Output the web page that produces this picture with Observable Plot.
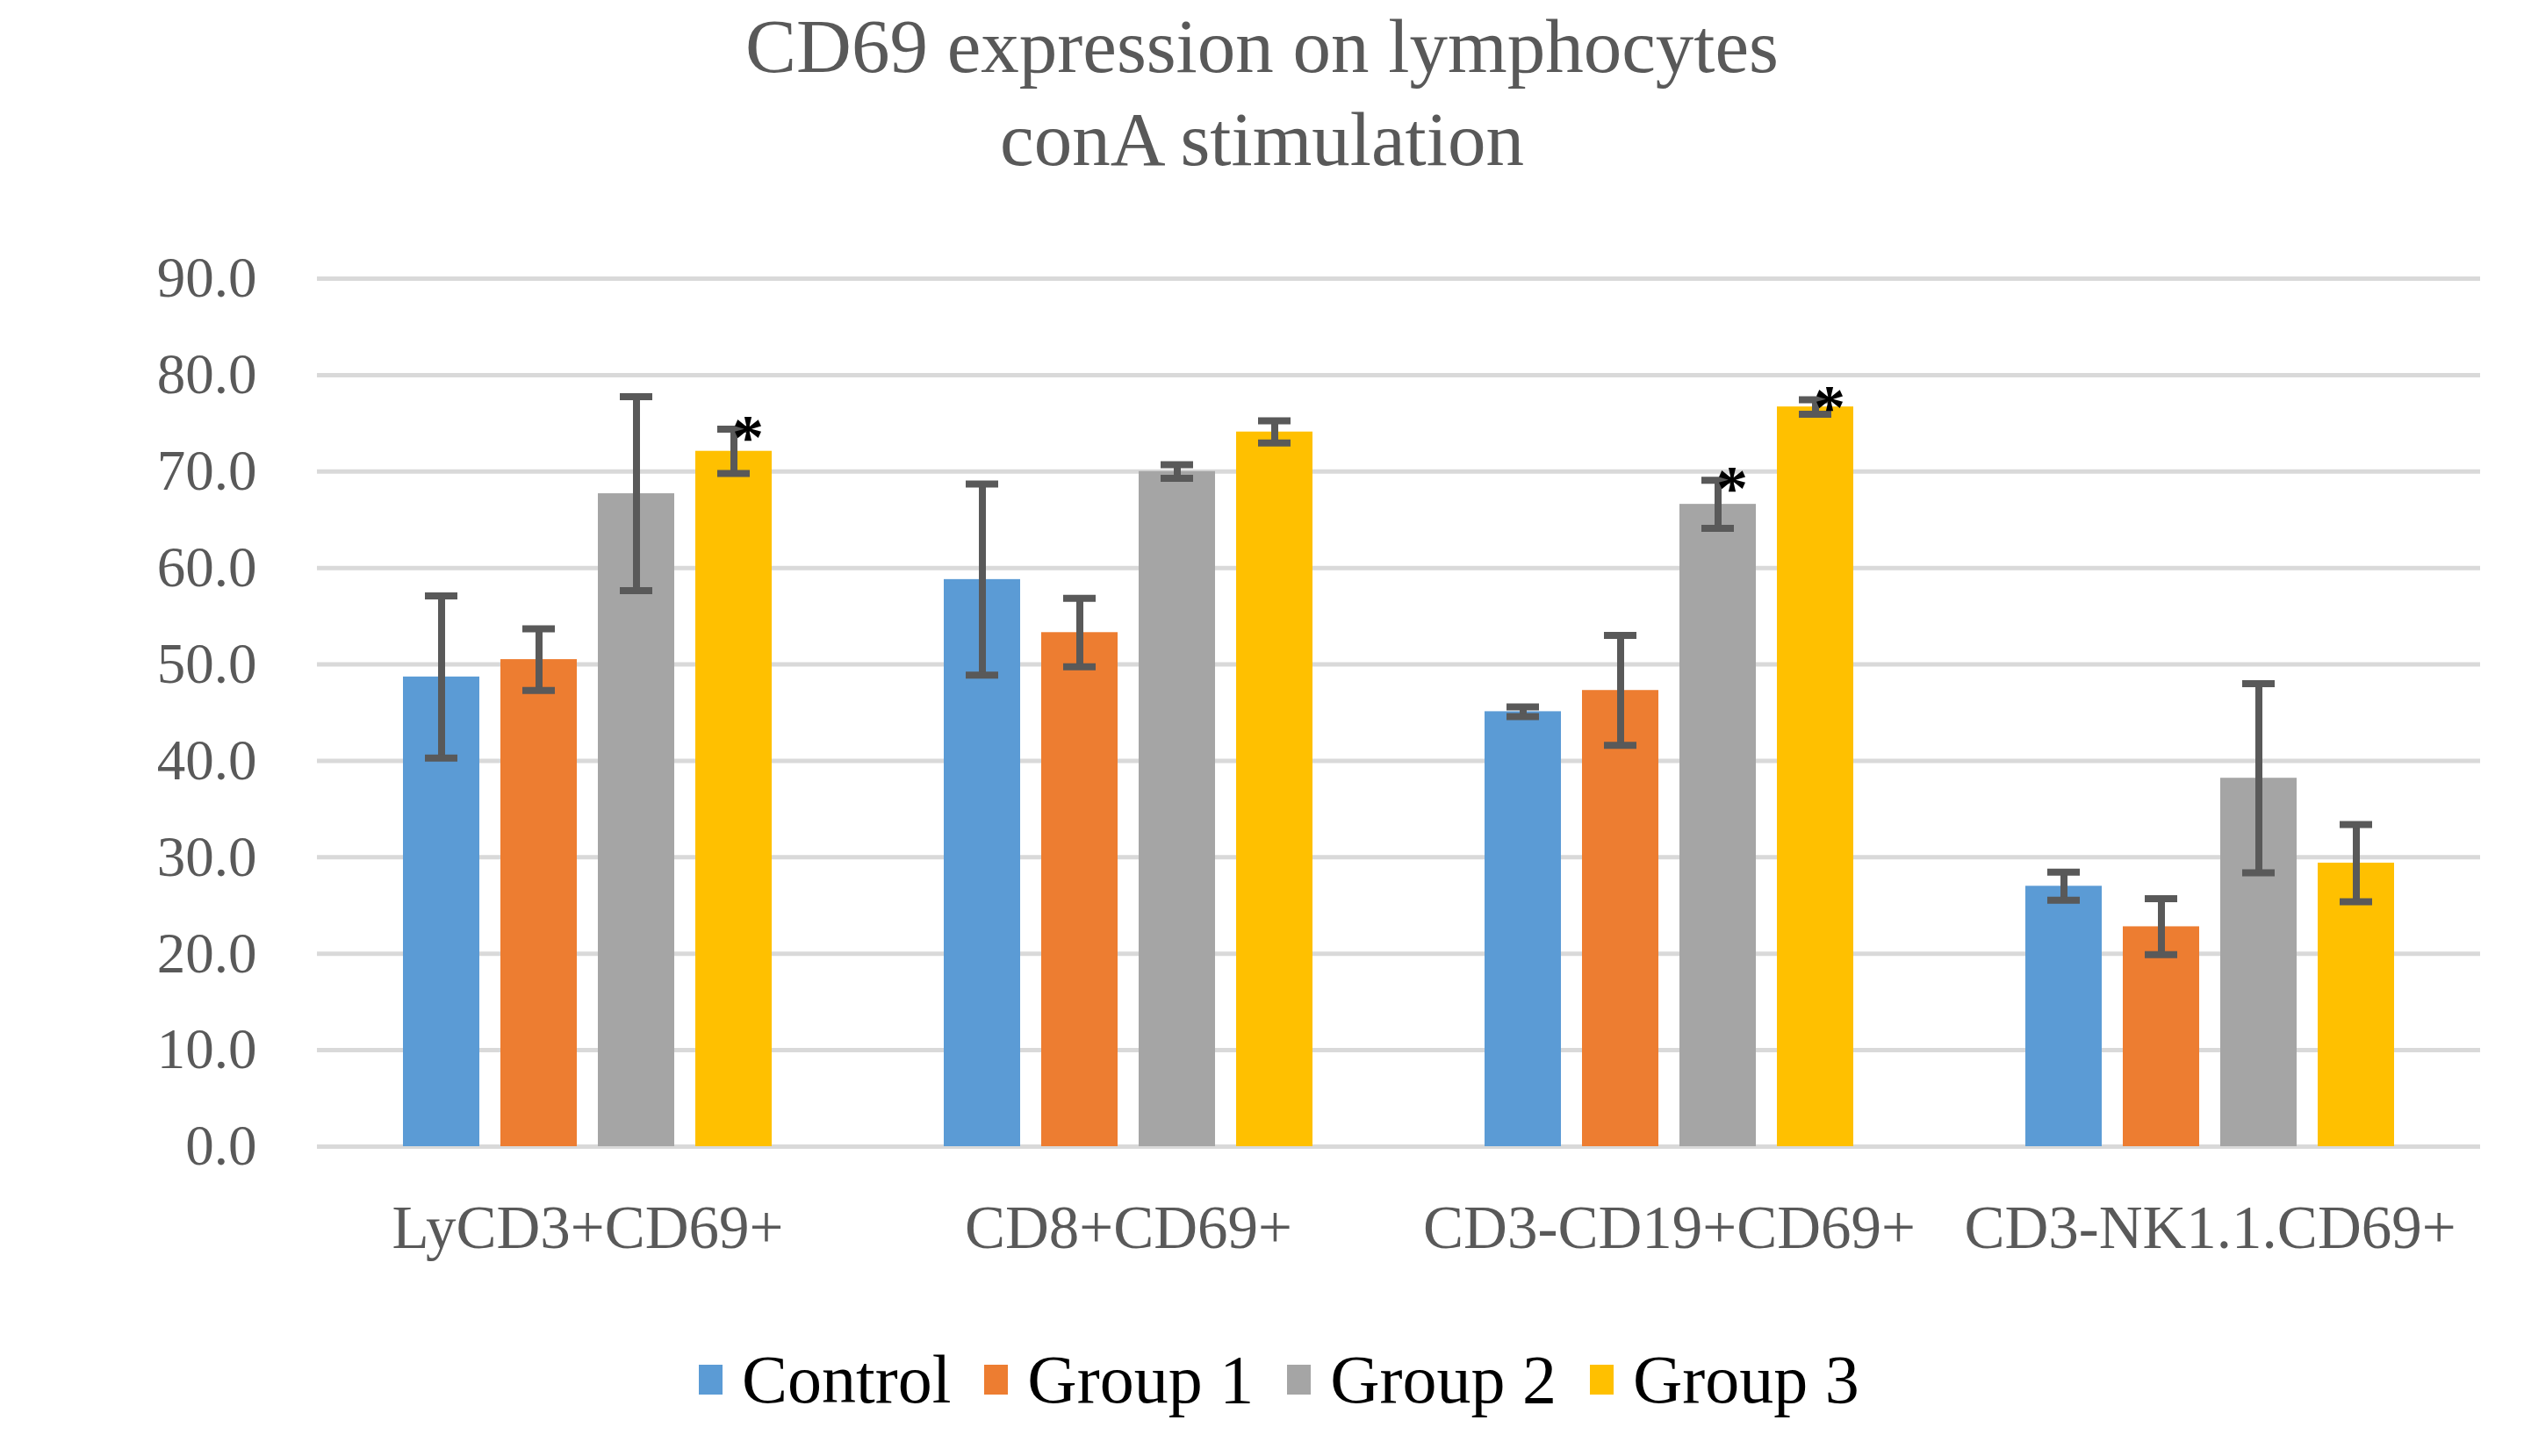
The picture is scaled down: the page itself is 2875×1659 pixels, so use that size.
<!DOCTYPE html>
<html>
<head>
<meta charset="utf-8">
<script src="https://cdn.jsdelivr.net/npm/d3@7"></script>
<script src="https://cdn.jsdelivr.net/npm/@observablehq/plot@0.6"></script>
<style>
  html, body { margin: 0; padding: 0; background: #fff; }
  #page { position: relative; width: 2875px; height: 1659px; overflow: hidden; background: #fff;
          font-family: "Liberation Serif", serif; }
  .title { position: absolute; left: 0; width: 2875px; text-align: center; color: #595959;
           font-size: 87px; line-height: 87px; white-space: nowrap; }
  #ytitle { position: absolute; left: 75px; top: 808px; font-size: 65px; line-height: 65px; color: #595959;
            transform: translate(-50%, -50%) rotate(-90deg); white-space: nowrap; }
  #chart { position: absolute; left: 0; top: 260px; }
  #legend { position: absolute; left: 796px; top: 1533px; display: flex; align-items: center;
            font-size: 78px; line-height: 78px; color: #000; white-space: nowrap; }
  .item { display: flex; align-items: center; margin-right: 38px; }
  .sw { width: 27px; height: 34px; margin-right: 22px; }
</style>
</head>
<body>
<div id="page">
  <div class="title" id="t1" style="top:9px">CD69 expression on lymphocytes</div>
  <div class="title" id="t2" style="top:115px">conA stimulation</div>
  <div id="ytitle">%</div>
  <div id="chart"></div>
  <div id="legend"></div>
</div>
<script>
// ---- data ----
const categories = ["LyCD3+CD69+", "CD8+CD69+", "CD3-CD19+CD69+", "CD3-NK1.1.CD69+"];
const series = ["Control", "Group 1", "Group 2", "Group 3"];
const colors = ["#5B9BD5", "#ED7D31", "#A5A5A5", "#FFC000"];

const controlMean = [48.7, 58.8, 45.1, 27.0];
const group1Mean  = [50.5, 53.3, 47.3, 22.8];
const group2Mean  = [67.7, 70.0, 66.6, 38.2];
const group3Mean  = [72.1, 74.1, 76.7, 29.4];

const controlErr = [8.4, 9.9, 0.5, 1.45];
const group1Err  = [3.2, 3.55, 5.7, 2.9];
const group2Err  = [10.05, 0.7, 2.5, 9.8];
const group3Err  = [2.3, 1.15, 0.75, 4.0];

const significant = [
  ["LyCD3+CD69+", "Group 3"],
  ["CD3-CD19+CD69+", "Group 2"],
  ["CD3-CD19+CD69+", "Group 3"]
];

const yTicks = [0, 10, 20, 30, 40, 50, 60, 70, 80, 90];

// ---- build table ----
const means = [controlMean, group1Mean, group2Mean, group3Mean];
const errs = [controlErr, group1Err, group2Err, group3Err];
const rows = [];
categories.forEach((cat, ci) => {
  series.forEach((s, si) => {
    const m = means[si][ci], e = errs[si][ci];
    rows.push({cat, series: s, mean: m, lo: m - e, hi: m + e});
  });
});
const starRows = rows.filter(r => significant.some(([c, s]) => c === r.cat && s === r.series));

const ink = "#595959";

const chart = Plot.plot({
  width: 2875,
  height: 1210,
  marginLeft: 361,
  marginRight: 50,
  marginTop: 57,
  marginBottom: 164,
  style: {fontFamily: "Liberation Serif, serif", fontSize: "65px", color: ink, background: "white"},
  fx: {domain: categories, padding: 0, label: null},
  x: {domain: series, paddingInner: 0.214, paddingOuter: 0.866, axis: null},
  y: {domain: [0, 90], axis: null},
  color: {domain: series, range: colors},
  marks: [
    Plot.gridY(yTicks, {stroke: "#D9D9D9", strokeOpacity: 1, strokeWidth: 5}),
    Plot.barY(rows, {fx: "cat", x: "series", y: "mean", fill: "series"}),
    Plot.ruleX(rows, {fx: "cat", x: "series", y1: "lo", y2: "hi", stroke: ink, strokeWidth: 8}),
    Plot.tickY(rows, {fx: "cat", x: "series", y: "hi", insetLeft: 25, insetRight: 25, stroke: ink, strokeWidth: 8}),
    Plot.tickY(rows, {fx: "cat", x: "series", y: "lo", insetLeft: 25, insetRight: 25, stroke: ink, strokeWidth: 8}),
    Plot.text(starRows, {fx: "cat", x: "series", y: "hi", text: () => "*", dx: 16, dy: 10,
      fontSize: 72, fill: "black", lineAnchor: "middle", fontWeight: "bold"}),
    Plot.axisY({ticks: yTicks, tickFormat: d => d.toFixed(1), tickSize: 0, tickPadding: 69, label: null}),
    Plot.axisFx({anchor: "bottom", tickSize: 0, tickPadding: 66, fontSize: 69, label: null})
  ]
});
document.getElementById("chart").appendChild(chart);

// ---- legend ----
const legend = document.getElementById("legend");
series.forEach((s, i) => {
  const item = document.createElement("div");
  item.className = "item";
  const sw = document.createElement("div");
  sw.className = "sw";
  sw.style.background = colors[i];
  const lab = document.createElement("span");
  lab.textContent = s;
  item.appendChild(sw);
  item.appendChild(lab);
  legend.appendChild(item);
});
</script>
</body>
</html>
